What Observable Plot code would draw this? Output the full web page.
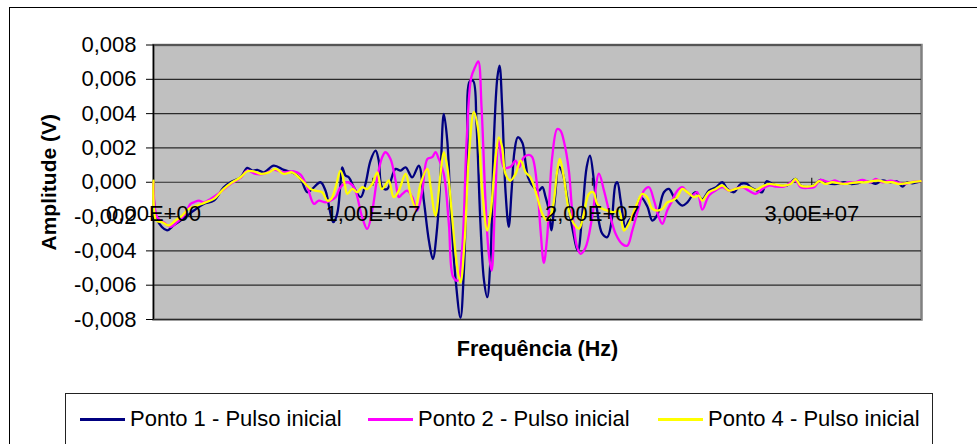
<!DOCTYPE html>
<html><head><meta charset="utf-8">
<script src="https://cdn.jsdelivr.net/npm/d3@7"></script>
<script src="https://cdn.jsdelivr.net/npm/@observablehq/plot@0.6"></script>
<style>
body{margin:0;background:#fff;}
#wrap{position:relative;width:977px;height:444px;overflow:hidden;font-family:"Liberation Sans",Arial,sans-serif;}
#outer{position:absolute;left:9px;top:7px;width:1100px;height:600px;border-left:1px solid #000;border-top:1px solid #000;}
#chart{position:absolute;left:0;top:0;}
#legend{position:absolute;left:65px;top:393px;width:866px;height:60px;border:1.5px solid #222;background:#fff;}
.item{position:absolute;top:13px;font-size:22px;line-height:24px;color:#000;white-space:nowrap;}
.sw{display:inline-block;width:45px;height:3px;vertical-align:middle;margin-right:5px;position:relative;top:-1px;}
</style></head>
<body><div id="wrap"><div id="outer"></div><div id="chart"></div><div id="legend"></div></div>
<script>
// ---- data (frequency in Hz, amplitude in V) ----
const seriesNames = ["Ponto 1 - Pulso inicial", "Ponto 2 - Pulso inicial", "Ponto 4 - Pulso inicial"];
const seriesColors = ["#000080", "#FF00FF", "#FFFF00"];
const yTicks = [-0.008, -0.006, -0.004, -0.002, 0, 0.002, 0.004, 0.006, 0.008];
const xTicks = [0, 1e7, 2e7, 3e7];

const ponto1 = [
[0,0],[0.17e6,-0.0022],[0.62e6,-0.0028],[0.93e6,-0.0025],[1.38e6,-0.0021],[1.84e6,-0.00165],[2.29e6,-0.00126],[2.75e6,-0.00107],
[3.20e6,-0.00029],[3.51e6,0],[3.97e6,0.00029],[4.27e6,0.00084],[4.50e6,0.00068],[4.73e6,0.00072],[5.03e6,0.00058],[5.48e6,0.00097],
[5.94e6,0.00072],[6.40e6,0.00052],[6.70e6,0.0002],[7.01e6,-0.00058],[7.23e6,-0.00039],[7.61e6,0],[7.84e6,-0.00049],[8.19e6,-0.00233],
[8.37e6,-0.00184],[8.52e6,-0.0001],[8.60e6,0.00087],[8.75e6,0.00039],[8.90e6,0.00029],[9.13e6,-0.00029],[9.44e6,-0.00087],[9.66e6,-0.0001],
[9.89e6,0.00126],[10.12e6,0.00184],[10.26e6,0.0013],[10.42e6,-0.0003],[10.65e6,-0.0004],[11.03e6,0.00078],[11.26e6,0.00068],[11.49e6,0.00087],
[11.79e6,0.00029],[12.09e6,0.00097],[12.32e6,-0.00107],[12.55e6,-0.0034],[12.73e6,-0.00447],[12.93e6,-0.0026],[13.08e6,0.00049],[13.23e6,0.00398],
[13.39e6,0.0024],[13.54e6,-0.00146],[13.77e6,-0.0057],[13.99e6,-0.0079],[14.14e6,-0.0053],[14.30e6,0.00146],[14.42e6,0.0059],[14.57e6,0.0059],
[14.72e6,0.0034],[14.90e6,-0.0024],[15.06e6,-0.0057],[15.21e6,-0.0067],[15.36e6,-0.00437],[15.51e6,0.0024],[15.67e6,0.0061],[15.77e6,0.0068],
[15.89e6,0.00437],[16.04e6,-0.00049],[16.19e6,-0.0026],[16.32e6,-0.00049],[16.45e6,0.0018],[16.60e6,0.00262],[16.81e6,0.0023],[16.96e6,0.0011],
[17.08e6,0.00025],[17.33e6,-0.00029],[17.56e6,-0.00049],[17.72e6,-0.00029],[17.87e6,-0.00087],[18.02e6,-0.00165],[18.13e6,-0.0028],[18.30e6,-0.00087],
[18.47e6,0.0009],[18.63e6,0.0006],[18.85e6,-0.00087],[19.08e6,-0.00262],[19.34e6,-0.00398],[19.54e6,-0.00185],[19.74e6,0.00087],[19.89e6,0.00155],
[20.07e6,0.0001],[20.22e6,-0.00165],[20.45e6,-0.003],[20.68e6,-0.0032],[20.88e6,-0.00223],[21.06e6,-0.0001],[21.14e6,0],[21.29e6,-0.00107],
[21.51e6,-0.00262],[21.66e6,-0.00223],[21.89e6,-0.0019],[22.20e6,-0.00087],[22.50e6,-0.0014],[22.73e6,-0.00223],[22.96e6,-0.0019],[23.26e6,-0.00058],
[23.49e6,-0.00039],[23.72e6,-0.00087],[24.10e6,-0.00136],[24.33e6,-0.00117],[24.70e6,-0.00058],[25.01e6,-0.001],[25.31e6,-0.00049],[25.62e6,-0.0003],
[25.92e6,0],[26.15e6,-0.00039],[26.45e6,-0.00058],[26.76e6,-0.0001],[27.06e6,-0.0001],[27.21e6,-0.00029],[27.52e6,-0.00049],[27.74e6,-0.00058],
[27.94e6,0.00006],[28.20e6,-0.0001],[28.50e6,-0.00019],[28.88e6,-0.00019],[29.26e6,0.00019],[29.49e6,-0.00019],[29.80e6,-0.00029],[30.10e6,-0.00019],
[30.40e6,0.00014],[30.71e6,-0.00005],[31.16e6,-0.0001],[31.46e6,0],[31.77e6,-0.0001],[32.07e6,-0.00006],[32.38e6,0.00006],[32.68e6,0],
[32.91e6,-0.0001],[33.21e6,0.0001],[33.59e6,0],[33.90e6,0.00004],[34.13e6,-0.00025],[34.35e6,0],[34.58e6,-0.00006],[34.96e6,0.00006]
];

const ponto2 = [
[0,0],[0.17e6,-0.00204],[0.47e6,-0.00233],[0.78e6,-0.0026],[1.08e6,-0.00233],[1.38e6,-0.00194],[1.69e6,-0.00126],[1.84e6,-0.00117],
[2.07e6,-0.00107],[2.29e6,-0.00117],[2.60e6,-0.00097],[3.05e6,-0.00058],[3.51e6,-0.0001],[3.97e6,0.00025],[4.27e6,0.00068],[4.65e6,0.00049],
[5.03e6,0.00049],[5.48e6,0.00072],[5.94e6,0.00058],[6.40e6,0.00064],[6.70e6,0.00045],[7.01e6,-0.00029],[7.31e6,-0.00126],[7.53e6,-0.00107],
[7.84e6,-0.00117],[8.07e6,-0.00107],[8.30e6,-0.00087],[8.52e6,-0.00029],[8.83e6,0],[9.13e6,-0.00029],[9.51e6,-0.00204],[9.74e6,-0.00272],
[9.97e6,-0.00165],[10.20e6,0.00029],[10.42e6,0.00146],[10.57e6,0.00175],[10.80e6,0.00136],[11.03e6,0.0001],[11.18e6,-0.00087],[11.34e6,-0.00068],
[11.56e6,-0.00049],[11.79e6,-0.00087],[12.02e6,-0.00165],[12.25e6,-0.00049],[12.48e6,0.00136],[12.70e6,0.00146],[12.85e6,0.00175],[13.00e6,0.00136],
[13.23e6,0.00049],[13.46e6,-0.00243],[13.66e6,-0.00553],[13.87e6,-0.00573],[14.07e6,-0.0038],[14.27e6,0.00243],[14.48e6,0.0061],[14.65e6,0.0067],
[14.80e6,0.00705],[14.95e6,0.00437],[15.13e6,-0.00107],[15.28e6,-0.00417],[15.41e6,-0.00515],[15.56e6,-0.00146],[15.74e6,0.0025],[15.97e6,0.00087],
[16.27e6,0.0009],[16.50e6,0.00126],[16.65e6,0.00087],[16.88e6,0.00146],[17.11e6,0.0016],[17.26e6,0.00146],[17.49e6,-0.00029],[17.64e6,-0.00282],
[17.79e6,-0.0047],[17.94e6,-0.0032],[18.17e6,0.00146],[18.40e6,0.0031],[18.55e6,0.003],[18.70e6,0.0024],[18.93e6,0.00068],[19.08e6,-0.00165],
[19.31e6,-0.0038],[19.46e6,-0.00417],[19.69e6,-0.0038],[19.99e6,-0.00204],[20.30e6,0.0005],[20.53e6,-0.00049],[20.83e6,-0.00204],[21.06e6,-0.003],
[21.36e6,-0.0036],[21.59e6,-0.0037],[21.82e6,-0.00282],[22.12e6,-0.00146],[22.35e6,-0.00049],[22.58e6,-0.00029],[22.81e6,-0.00107],[23.03e6,-0.00204],
[23.19e6,-0.00243],[23.41e6,-0.00165],[23.64e6,-0.00107],[23.87e6,-0.00049],[24.10e6,-0.00029],[24.32e6,-0.00058],[24.55e6,-0.00078],[24.78e6,-0.00058],
[25.01e6,-0.0016],[25.31e6,-0.00078],[25.61e6,-0.00049],[25.92e6,-0.00029],[26.22e6,-0.00049],[26.52e6,-0.00039],[26.83e6,-0.00029],[27.13e6,-0.00049],
[27.44e6,-0.00068],[27.74e6,-0.00039],[28.05e6,-0.00019],[28.35e6,-0.00025],[28.73e6,-0.00025],[29.26e6,0.0001],[29.49e6,-0.00029],[29.87e6,-0.00033],
[30.10e6,-0.00029],[30.40e6,0.00014],[30.78e6,0],[31.08e6,0.0001],[31.39e6,-0.0001],[31.69e6,0],[31.99e6,0],[32.30e6,0.00014],
[32.68e6,0],[32.91e6,0.00019],[33.21e6,0],[33.59e6,0.0001],[33.90e6,0],[34.20e6,-0.0001],[34.51e6,0],[34.96e6,0.00006]
];

const ponto4 = [
[0,0.0001],[0.13e6,-0.00223],[0.40e6,-0.00233],[0.70e6,-0.00252],[1.00e6,-0.00223],[1.31e6,-0.00194],[1.61e6,-0.00155],[1.99e6,-0.00136],
[2.37e6,-0.00117],[2.75e6,-0.00097],[3.20e6,-0.00039],[3.59e6,0],[3.97e6,0.00029],[4.27e6,0.00064],[4.57e6,0.00064],[4.88e6,0.00049],
[5.26e6,0.00058],[5.56e6,0.00078],[5.94e6,0.00049],[6.32e6,0.00058],[6.62e6,0.00029],[6.85e6,0],[7.16e6,-0.00039],[7.38e6,-0.00049],
[7.69e6,-0.00058],[7.92e6,-0.00107],[8.10e6,-0.00097],[8.30e6,-0.00029],[8.52e6,0.00068],[8.71e6,-0.0001],[8.83e6,-0.00068],[9.06e6,-0.00039],
[9.28e6,-0.00058],[9.51e6,-0.00029],[9.74e6,-0.0004],[9.97e6,-0.0001],[10.20e6,0.00058],[10.40e6,-0.0004],[10.65e6,0],[10.73e6,0.0001],
[10.95e6,-0.00087],[11.18e6,-0.00049],[11.49e6,0.00049],[11.71e6,-0.00068],[11.94e6,-0.00146],[12.17e6,-0.0001],[12.48e6,0.00078],[12.63e6,-0.00029],
[12.85e6,-0.00194],[13.08e6,0.00049],[13.23e6,0.00175],[13.39e6,0.00087],[13.61e6,-0.00204],[13.84e6,-0.00495],[13.99e6,-0.00583],[14.18e6,-0.0034],
[14.37e6,0.00146],[14.60e6,0.00408],[14.78e6,0.0032],[14.98e6,-0.00049],[15.21e6,-0.00282],[15.36e6,-0.00184],[15.59e6,0.00146],[15.74e6,0.00262],
[15.89e6,0.00204],[16.04e6,0.00049],[16.27e6,0.0001],[16.50e6,0.00049],[16.73e6,0.00126],[16.96e6,0.00058],[17.18e6,0.00029],[17.49e6,-0.00087],
[17.72e6,-0.00184],[17.94e6,-0.00223],[18.17e6,-0.00165],[18.40e6,0.00068],[18.52e6,0.00136],[18.70e6,0.00029],[18.93e6,-0.00165],[19.16e6,-0.00243],
[19.39e6,-0.0027],[19.61e6,-0.00184],[19.84e6,-0.00068],[20.04e6,-0.00058],[20.22e6,-0.00126],[20.45e6,-0.00155],[20.68e6,-0.00165],[20.98e6,-0.00175],
[21.21e6,-0.00165],[21.44e6,-0.00282],[21.66e6,-0.00243],[21.97e6,-0.00146],[22.27e6,-0.00068],[22.50e6,-0.00087],[22.73e6,-0.00155],[22.96e6,-0.00165],
[23.19e6,-0.00155],[23.41e6,-0.00117],[23.64e6,-0.00107],[23.87e6,-0.00087],[24.10e6,-0.00039],[24.33e6,-0.00058],[24.63e6,-0.00087],[24.85e6,-0.00078],
[25.01e6,-0.00107],[25.31e6,-0.00058],[25.62e6,-0.00039],[25.92e6,-0.00019],[26.22e6,-0.00049],[26.52e6,-0.00039],[26.83e6,-0.00029],[27.13e6,-0.00029],
[27.44e6,-0.00045],[27.74e6,-0.00025],[28.05e6,-0.0001],[28.35e6,-0.00014],[28.73e6,-0.00019],[29.04e6,-0.0001],[29.26e6,0.00019],[29.49e6,-0.00019],
[29.79e6,-0.00025],[30.10e6,-0.00019],[30.33e6,0.00006],[30.63e6,-0.0001],[30.93e6,0],[31.24e6,-0.00006],[31.54e6,-0.0001],[31.84e6,-0.00004],
[32.15e6,0],[32.45e6,0],[32.75e6,0.00006],[33.05e6,0.0001],[33.36e6,0],[33.66e6,0],[33.97e6,-0.0001],[34.27e6,-0.00006],
[34.57e6,0],[34.96e6,0.00006]
];

// ---- build ----
const allSeries = [ponto1, ponto2, ponto4];

const fmtY = d => d.toFixed(3).replace(".", ",");
const fmtX = d => {
  const e = d === 0 ? 0 : Math.floor(Math.log10(d));
  const m = d / Math.pow(10, e);
  return m.toFixed(2).replace(".", ",") + "E+" + String(e).padStart(2, "0");
};

const font = "'Liberation Sans', Arial, sans-serif";

const chart = Plot.plot({
  width: 977, height: 444,
  marginLeft: 153, marginRight: 56, marginTop: 44.5, marginBottom: 125,
  x: {domain: [0, 3.5e7], axis: null},
  y: {domain: [-0.008, 0.008], axis: null},
  style: {fontFamily: font, fontSize: "22px", background: "transparent", overflow: "visible"},
  marks: [
    Plot.frame({fill: "#C0C0C0", stroke: "#808080", strokeWidth: 2.5}),
    Plot.gridY(yTicks, {stroke: "#2a2a2a", strokeOpacity: 1, strokeWidth: 1.2}),
    Plot.ruleX([0], {stroke: "#000", strokeWidth: 1.3}),
    Plot.axisY(yTicks, {tickFormat: fmtY, tickSize: 7, tickPadding: 10, fontSize: 22, label: null, stroke: "#000"}),
    Plot.ruleX(xTicks.slice(1), {x: d => d, y1: () => 0, y2: () => 0, insetTop: -4, insetBottom: -4, stroke: "#000"}),
    ...allSeries.map((s, k) => Plot.line(s, {x: d => d[0], y: d => d[1], stroke: seriesColors[k], strokeWidth: 2.3, curve: "catmull-rom"})),
    Plot.text(xTicks, {x: d => d, y: () => 0, dy: 32, text: fmtX, fontSize: 22, fill: "#000"}),
    Plot.text(["Amplitude (V)"], {frameAnchor: "left", textAnchor: "middle", dx: -104, rotate: -90, fontWeight: "bold", fontSize: 21, fill: "#000"}),
    Plot.text(["Frequência (Hz)"], {frameAnchor: "bottom", textAnchor: "middle", dy: 36, fontWeight: "bold", fontSize: 21.5, fill: "#000"})
  ]
});
document.getElementById("chart").appendChild(chart);

// ---- legend ----
const legend = document.getElementById("legend");
const legendX = [14, 302, 592];
seriesNames.forEach((n, k) => {
  const it = document.createElement("div");
  it.className = "item";
  it.style.left = legendX[k] + "px";
  it.innerHTML = `<span class="sw" style="background:${seriesColors[k]}"></span>${n}`;
  legend.appendChild(it);
});
</script></body></html>
